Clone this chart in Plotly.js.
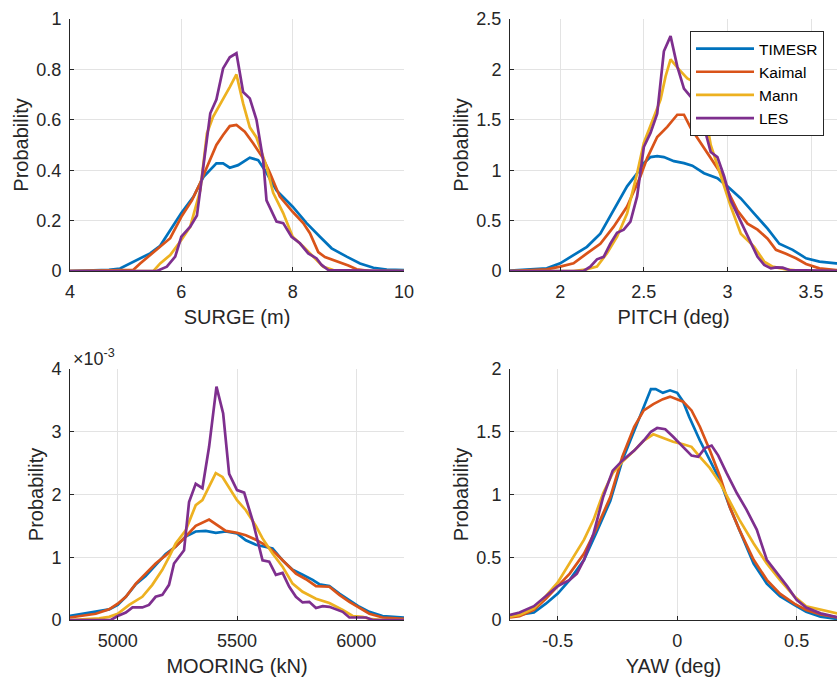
<!DOCTYPE html>
<html>
<head>
<meta charset="utf-8">
<script src="https://cdn.plot.ly/plotly-3.0.1.min.js"></script>
<style>html,body{margin:0;padding:0;background:#fff;}</style>
</head>
<body>
<div id="chart" style="width:837px;height:678px;"></div>
<script>
// ---------- Data ----------
const seriesNames = ["TIMESR", "Kaimal", "Mann", "LES"];
const seriesColors = ["#0072BD", "#D95319", "#EDB120", "#7E2F8E"];

// SURGE (m)
const surgeX_TIMESR = [4, 4.7, 4.9, 5.14, 5.44, 5.62, 5.8, 6.0, 6.22, 6.4, 6.63, 6.75, 6.87, 7.02, 7.23, 7.38, 7.53, 7.71, 8.0, 8.25, 8.49, 8.7, 8.97, 9.21, 9.45, 9.69, 10];
const surgeY_TIMESR = [0, 0.005, 0.01, 0.037, 0.07, 0.1, 0.16, 0.23, 0.295, 0.374, 0.427, 0.427, 0.41, 0.42, 0.45, 0.44, 0.39, 0.32, 0.255, 0.19, 0.136, 0.09, 0.057, 0.03, 0.013, 0.006, 0.004];
const surgeX_Kaimal = [4, 5.0, 5.14, 5.26, 5.44, 5.62, 5.8, 6.0, 6.19, 6.34, 6.49, 6.63, 6.75, 6.87, 6.99, 7.14, 7.29, 7.47, 7.59, 7.77, 8.0, 8.19, 8.31, 8.46, 8.58, 8.8, 9.0, 9.15, 9.4, 10];
const surgeY_Kaimal = [0, 0.003, 0.005, 0.03, 0.063, 0.097, 0.13, 0.215, 0.28, 0.35, 0.43, 0.5, 0.54, 0.575, 0.58, 0.553, 0.507, 0.447, 0.39, 0.295, 0.235, 0.19, 0.15, 0.075, 0.055, 0.038, 0.022, 0.007, 0, 0];
const surgeX_Mann = [4, 5.5, 5.62, 5.8, 6.0, 6.16, 6.34, 6.46, 6.57, 6.75, 6.87, 6.99, 7.11, 7.23, 7.35, 7.53, 7.65, 7.83, 8.0, 8.19, 8.37, 8.55, 8.73, 8.85, 10];
const surgeY_Mann = [0, 0, 0.03, 0.063, 0.123, 0.176, 0.32, 0.546, 0.612, 0.68, 0.73, 0.78, 0.665, 0.57, 0.53, 0.414, 0.31, 0.23, 0.136, 0.097, 0.057, 0.017, 0.004, 0, 0];
const surgeX_LES = [4, 5.56, 5.74, 5.89, 6.0, 6.16, 6.28, 6.4, 6.52, 6.63, 6.75, 6.87, 6.99, 7.11, 7.23, 7.35, 7.47, 7.53, 7.62, 7.71, 7.83, 7.98, 8.13, 8.28, 8.43, 8.52, 8.64, 10];
const surgeY_LES = [0, 0, 0.017, 0.057, 0.136, 0.176, 0.22, 0.414, 0.626, 0.68, 0.804, 0.848, 0.864, 0.71, 0.685, 0.6, 0.44, 0.28, 0.24, 0.196, 0.19, 0.136, 0.11, 0.07, 0.05, 0.024, 0.004, 0];

// PITCH (deg)
const pitchX_TIMESR = [1.7, 1.92, 2.0, 2.08, 2.16, 2.24, 2.32, 2.4, 2.46, 2.5, 2.54, 2.58, 2.62, 2.68, 2.74, 2.79, 2.86, 2.94, 3.0, 3.08, 3.16, 3.24, 3.31, 3.39, 3.47, 3.55, 3.65, 3.7];
const pitchY_TIMESR = [0.003, 0.026, 0.076, 0.16, 0.24, 0.37, 0.6, 0.84, 0.97, 1.07, 1.13, 1.14, 1.13, 1.09, 1.07, 1.045, 0.97, 0.92, 0.84, 0.72, 0.57, 0.42, 0.27, 0.21, 0.126, 0.093, 0.076, 0.07];
const pitchX_Kaimal = [1.7, 1.92, 2.0, 2.08, 2.16, 2.24, 2.32, 2.4, 2.48, 2.52, 2.58, 2.64, 2.7, 2.74, 2.78, 2.84, 2.9, 2.96, 3.0, 3.06, 3.12, 3.18, 3.24, 3.29, 3.35, 3.41, 3.47, 3.55, 3.65, 3.7];
const pitchY_Kaimal = [0, 0.017, 0.043, 0.076, 0.175, 0.27, 0.44, 0.64, 0.94, 1.12, 1.33, 1.43, 1.55, 1.55, 1.42, 1.27, 1.13, 0.97, 0.8, 0.6, 0.47, 0.41, 0.32, 0.21, 0.17, 0.126, 0.07, 0.026, 0.01, 0.005];
const pitchX_Mann = [1.7, 2.08, 2.16, 2.22, 2.28, 2.34, 2.4, 2.46, 2.5, 2.56, 2.6, 2.63, 2.66, 2.71, 2.76, 2.82, 2.86, 2.9, 2.96, 3.02, 3.08, 3.16, 3.22, 3.27, 3.35, 3.45, 3.7];
const pitchY_Mann = [0, 0, 0.017, 0.043, 0.175, 0.34, 0.57, 0.97, 1.27, 1.53, 1.7, 1.93, 2.1, 2.0, 1.91, 1.86, 1.63, 1.25, 0.95, 0.64, 0.37, 0.24, 0.093, 0.043, 0.017, 0, 0];
const pitchX_LES = [1.7, 2.14, 2.18, 2.22, 2.26, 2.3, 2.34, 2.38, 2.42, 2.46, 2.5, 2.54, 2.58, 2.6, 2.62, 2.66, 2.7, 2.74, 2.78, 2.82, 2.86, 2.9, 2.94, 2.98, 3.02, 3.08, 3.14, 3.18, 3.22, 3.26, 3.29, 3.33, 3.37, 3.7];
const pitchY_LES = [0, 0, 0.043, 0.116, 0.14, 0.27, 0.38, 0.41, 0.49, 0.74, 1.23, 1.37, 1.56, 1.86, 2.18, 2.33, 2.03, 1.81, 1.73, 1.63, 1.43, 1.18, 1.13, 0.94, 0.7, 0.49, 0.27, 0.14, 0.06, 0.026, 0.036, 0.033, 0.01, 0];

// MOORING (kN) — probability values in units of 10^-3 (as on the axis)
const mooringX_TIMESR = [4800, 4852, 4908, 4964, 5000, 5034, 5076, 5117, 5159, 5201, 5243, 5285, 5327, 5369, 5411, 5453, 5500, 5537, 5579, 5621, 5649, 5691, 5733, 5775, 5817, 5845, 5887, 5929, 5971, 6013, 6055, 6110, 6200];
const mooringY_TIMESR = [0.064, 0.095, 0.14, 0.17, 0.24, 0.37, 0.57, 0.7, 0.875, 1.05, 1.17, 1.33, 1.41, 1.42, 1.39, 1.41, 1.38, 1.27, 1.2, 1.17, 1.14, 0.95, 0.8, 0.72, 0.64, 0.57, 0.54, 0.42, 0.32, 0.21, 0.13, 0.064, 0.04];
const mooringX_Kaimal = [4800, 4852, 4908, 4964, 5000, 5034, 5076, 5117, 5159, 5201, 5243, 5285, 5327, 5383, 5425, 5453, 5500, 5537, 5579, 5621, 5663, 5705, 5747, 5789, 5831, 5887, 5929, 5971, 6013, 6055, 6110, 6200];
const mooringY_Kaimal = [0.04, 0.07, 0.1, 0.17, 0.26, 0.37, 0.58, 0.74, 0.9, 1.03, 1.17, 1.33, 1.5, 1.6, 1.49, 1.42, 1.39, 1.35, 1.28, 1.19, 1.06, 0.9, 0.74, 0.65, 0.54, 0.53, 0.4, 0.29, 0.2, 0.1, 0.04, 0.02];
const mooringX_Mann = [4800, 4922, 4964, 5000, 5048, 5103, 5145, 5187, 5215, 5243, 5285, 5327, 5355, 5383, 5411, 5439, 5467, 5500, 5537, 5579, 5607, 5649, 5691, 5733, 5775, 5831, 5887, 5943, 5985, 6027, 6055, 6110, 6200];
const mooringY_Mann = [0, 0.027, 0.05, 0.1, 0.24, 0.37, 0.56, 0.8, 1.0, 1.22, 1.43, 1.83, 1.91, 2.12, 2.34, 2.28, 2.12, 1.91, 1.75, 1.5, 1.3, 1.06, 0.85, 0.58, 0.45, 0.34, 0.27, 0.16, 0.064, 0.05, 0.02, 0, 0];
const mooringX_LES = [4800, 4971, 5000, 5034, 5062, 5103, 5131, 5159, 5187, 5215, 5236, 5257, 5278, 5299, 5327, 5355, 5383, 5414, 5442, 5467, 5500, 5530, 5565, 5607, 5635, 5663, 5691, 5719, 5747, 5775, 5803, 5831, 5859, 5887, 5915, 5943, 5971, 6013, 6041, 6069, 6200];
const mooringY_LES = [0, 0, 0.064, 0.12, 0.2, 0.2, 0.24, 0.37, 0.4, 0.56, 0.9, 1.0, 1.11, 1.88, 2.17, 2.1, 2.76, 3.72, 3.29, 2.33, 2.07, 2.03, 1.59, 0.95, 0.93, 0.72, 0.75, 0.53, 0.37, 0.28, 0.29, 0.19, 0.22, 0.21, 0.17, 0.13, 0.04, 0.04, 0.04, 0, 0];

// YAW (deg)
const yawX_TIMESR = [-0.7, -0.66, -0.6, -0.55, -0.5, -0.45, -0.39, -0.34, -0.28, -0.23, -0.18, -0.14, -0.11, -0.09, -0.06, -0.03, 0, 0.025, 0.05, 0.095, 0.137, 0.18, 0.22, 0.26, 0.32, 0.375, 0.43, 0.49, 0.54, 0.6, 0.67, 0.7];
const yawY_TIMESR = [0.03, 0.04, 0.06, 0.13, 0.21, 0.32, 0.48, 0.69, 0.95, 1.27, 1.51, 1.71, 1.84, 1.84, 1.81, 1.83, 1.81, 1.74, 1.62, 1.43, 1.27, 1.11, 0.9, 0.72, 0.45, 0.29, 0.19, 0.12, 0.066, 0.027, 0.005, 0];
const yawX_Kaimal = [-0.7, -0.66, -0.6, -0.55, -0.5, -0.45, -0.39, -0.34, -0.28, -0.23, -0.18, -0.14, -0.1, -0.06, -0.03, 0, 0.025, 0.06, 0.095, 0.137, 0.18, 0.22, 0.26, 0.32, 0.375, 0.43, 0.49, 0.54, 0.6, 0.67, 0.7];
const yawY_Kaimal = [0.02, 0.03, 0.08, 0.17, 0.27, 0.37, 0.53, 0.72, 0.98, 1.3, 1.54, 1.67, 1.72, 1.76, 1.78, 1.76, 1.74, 1.67, 1.54, 1.35, 1.14, 0.9, 0.72, 0.48, 0.32, 0.21, 0.13, 0.08, 0.045, 0.02, 0.015];
const yawX_Mann = [-0.7, -0.66, -0.6, -0.55, -0.5, -0.45, -0.39, -0.35, -0.31, -0.27, -0.23, -0.18, -0.14, -0.1, -0.06, -0.017, 0.025, 0.06, 0.095, 0.137, 0.18, 0.22, 0.26, 0.32, 0.375, 0.43, 0.49, 0.54, 0.6, 0.67, 0.7];
const yawY_Mann = [0.027, 0.04, 0.093, 0.19, 0.3, 0.45, 0.64, 0.8, 1.01, 1.17, 1.26, 1.35, 1.43, 1.48, 1.45, 1.42, 1.4, 1.38, 1.3, 1.21, 1.09, 0.95, 0.8, 0.61, 0.45, 0.32, 0.19, 0.11, 0.085, 0.053, 0.04];
const yawX_LES = [-0.7, -0.66, -0.6, -0.55, -0.5, -0.45, -0.42, -0.39, -0.35, -0.31, -0.27, -0.23, -0.18, -0.14, -0.11, -0.084, -0.05, -0.017, 0.025, 0.06, 0.088, 0.116, 0.144, 0.172, 0.207, 0.25, 0.29, 0.333, 0.375, 0.417, 0.46, 0.5, 0.54, 0.6, 0.67, 0.7];
const yawY_LES = [0.04, 0.06, 0.11, 0.19, 0.27, 0.32, 0.37, 0.48, 0.69, 0.98, 1.19, 1.27, 1.35, 1.43, 1.5, 1.53, 1.52, 1.46, 1.38, 1.31, 1.3, 1.37, 1.39, 1.31, 1.17, 1.01, 0.88, 0.72, 0.48, 0.38, 0.27, 0.16, 0.1, 0.053, 0.02, 0.01];

// Axis titles and tick labels
const xTitles = ["SURGE (m)", "PITCH (deg)", "MOORING (kN)", "YAW (deg)"];
const yTitle = "Probability";
const mooringTickVals = [0, 1, 2, 3, 4];
const mooringTickText = ["0", "1", "2", "3", "4"];
const yawTickVals = [-0.5, 0, 0.5];
const yawTickText = ["-0.5", "0", "0.5"];

// ---------- Build traces ----------
const panels = [
  {xs: [surgeX_TIMESR, surgeX_Kaimal, surgeX_Mann, surgeX_LES], ys: [surgeY_TIMESR, surgeY_Kaimal, surgeY_Mann, surgeY_LES], xa: "x", ya: "y"},
  {xs: [pitchX_TIMESR, pitchX_Kaimal, pitchX_Mann, pitchX_LES], ys: [pitchY_TIMESR, pitchY_Kaimal, pitchY_Mann, pitchY_LES], xa: "x2", ya: "y2"},
  {xs: [mooringX_TIMESR, mooringX_Kaimal, mooringX_Mann, mooringX_LES], ys: [mooringY_TIMESR, mooringY_Kaimal, mooringY_Mann, mooringY_LES], xa: "x3", ya: "y3"},
  {xs: [yawX_TIMESR, yawX_Kaimal, yawX_Mann, yawX_LES], ys: [yawY_TIMESR, yawY_Kaimal, yawY_Mann, yawY_LES], xa: "x4", ya: "y4"}
];

const traces = [];
panels.forEach((p, pi) => {
  for (let s = 0; s < 4; s++) {
    traces.push({
      type: "scatter", mode: "lines",
      x: p.xs[s], y: p.ys[s], xaxis: p.xa, yaxis: p.ya,
      name: seriesNames[s],
      showlegend: pi === 1,
      line: {color: seriesColors[s], width: 2.7},
      hoverinfo: "skip"
    });
  }
});

// ---------- Layout ----------
const W = 837, H = 678;
const txt = "#262626";
const fam = "Liberation Sans, Arial, Helvetica, sans-serif";
const tickFont = {family: fam, size: 18, color: txt};
const titleFont = {family: fam, size: 20, color: txt};

function xaxis(domainPx, range, dtick, title, anchor, extra) {
  const o = {
    domain: [domainPx[0] / W, domainPx[1] / W], range: range, dtick: dtick, tick0: 0,
    anchor: anchor, showline: true, linecolor: txt, linewidth: 1,
    ticks: "inside", ticklen: 4, tickcolor: txt, tickwidth: 1,
    showgrid: true, gridcolor: "#e3e3e3", gridwidth: 1, zeroline: false,
    tickfont: tickFont, ticklabelstandoff: 4,
    title: {text: title, font: titleFont, standoff: 9},
    fixedrange: true
  };
  return Object.assign(o, extra || {});
}
function yaxis(domainPx, range, dtick, anchor, extra) {
  const o = {
    domain: [1 - domainPx[1] / H, 1 - domainPx[0] / H], range: range, dtick: dtick, tick0: 0,
    anchor: anchor, showline: true, linecolor: txt, linewidth: 1,
    ticks: "inside", ticklen: 4, tickcolor: txt, tickwidth: 1,
    showgrid: true, gridcolor: "#e3e3e3", gridwidth: 1, zeroline: false,
    tickfont: tickFont, ticklabelstandoff: 4,
    title: {text: yTitle, font: titleFont, standoff: 2},
    fixedrange: true
  };
  return Object.assign(o, extra || {});
}

const leftPx = [70, 404], rightPx = [510, 837];
const topPx = [19, 271], botPx = [369, 620];

const layout = {
  width: W, height: H,
  margin: {l: 0, r: 0, t: 0, b: 0, autoexpand: false},
  paper_bgcolor: "#ffffff", plot_bgcolor: "#ffffff",
  font: {family: fam, color: txt},
  xaxis: xaxis(leftPx, [4, 10], 2, xTitles[0], "y"),
  yaxis: yaxis(topPx, [0, 1], 0.2, "x"),
  xaxis2: xaxis(rightPx, [1.7, 3.655], 0.5, xTitles[1], "y2"),
  yaxis2: yaxis(topPx, [0, 2.5], 0.5, "x2"),
  xaxis3: xaxis(leftPx, [4800, 6200], 500, xTitles[2], "y3"),
  yaxis3: yaxis(botPx, [0, 4], 1, "x3", {tickmode: "array", tickvals: mooringTickVals, ticktext: mooringTickText}),
  xaxis4: xaxis(rightPx, [-0.7, 0.669], 0.5, xTitles[3], "y4", {tickmode: "array", tickvals: yawTickVals, ticktext: yawTickText}),
  yaxis4: yaxis(botPx, [0, 2], 0.5, "x4"),
  showlegend: true,
  legend: {
    x: 690 / W, y: 1 - 31 / H, xanchor: "left", yanchor: "top",
    bgcolor: "#ffffff", bordercolor: txt, borderwidth: 1,
    font: {family: fam, size: 15.5, color: "#000000"},
    itemwidth: 58, tracegroupgap: 0
  },
  annotations: [{
    xref: "paper", yref: "paper", x: 71 / W, y: 1 - 357 / H,
    xanchor: "left", yanchor: "middle", showarrow: false,
    text: "×10<sup>-3</sup>", font: {family: fam, size: 18, color: txt}
  }]
};

Plotly.newPlot("chart", traces, layout, {displayModeBar: false, staticPlot: true});
</script>
</body>
</html>
